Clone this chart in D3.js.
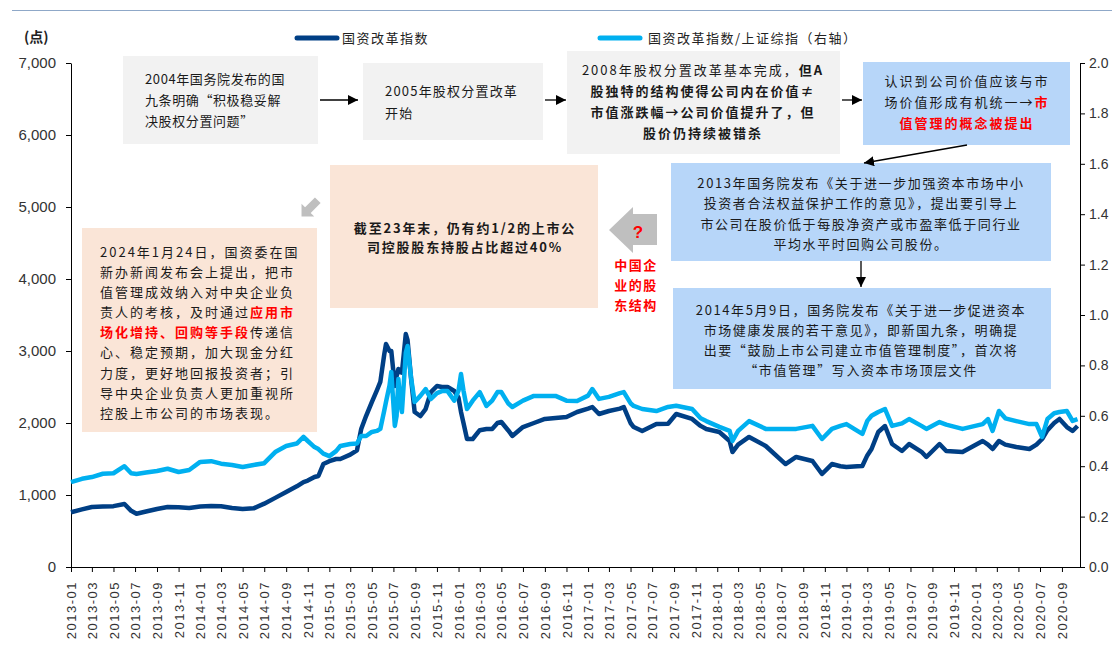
<!DOCTYPE html>
<html>
<head>
<meta charset="utf-8">
<script src="https://cdn.jsdelivr.net/npm/d3@7"></script>
<style>
  body { margin: 0; background: #fff; }
  svg { display: block; }
  .cjk { font-family: "Noto Sans CJK SC", sans-serif; }
</style>
</head>
<body>
<div id="chart"></div>
<script>
// DATA
const dates = ["2013-01-01","2013-02-01","2013-03-01","2013-04-01","2013-05-01","2013-06-01","2013-06-20","2013-07-05","2013-08-01","2013-09-01","2013-10-01","2013-11-01","2013-12-01",
"2014-01-01","2014-02-01","2014-03-01","2014-04-01","2014-05-01","2014-06-01","2014-07-01","2014-08-01","2014-09-01","2014-10-01","2014-10-20","2014-11-01","2014-11-20","2014-12-01","2014-12-15",
"2015-01-01","2015-01-20","2015-02-01","2015-03-01","2015-03-20","2015-04-01","2015-04-15","2015-05-01","2015-05-15","2015-05-25","2015-06-05","2015-06-10","2015-06-20","2015-06-25","2015-07-05","2015-07-10","2015-07-15","2015-07-20","2015-07-25","2015-08-05","2015-08-10","2015-08-20","2015-08-30","2015-09-15","2015-09-30","2015-10-15","2015-11-01","2015-11-15","2015-12-01","2015-12-20",
"2016-01-01","2016-01-08","2016-01-15","2016-01-25","2016-02-10","2016-03-01","2016-03-20","2016-04-05","2016-04-20","2016-05-01","2016-05-20","2016-06-01","2016-07-01","2016-08-01","2016-09-01","2016-10-01","2016-11-01","2016-12-01",
"2017-01-01","2017-01-13","2017-02-01","2017-03-01","2017-04-01","2017-04-12","2017-05-01","2017-05-10","2017-06-03","2017-07-13","2017-08-15","2017-09-07","2017-10-22","2017-11-15","2017-12-01",
"2018-01-07","2018-02-05","2018-02-13","2018-03-01","2018-04-01","2018-05-18","2018-07-13","2018-08-12","2018-09-27","2018-10-24","2018-11-21","2018-12-15",
"2019-01-01","2019-02-01","2019-02-15","2019-03-01","2019-03-13","2019-04-01","2019-04-20","2019-05-10","2019-06-07","2019-06-27","2019-08-01","2019-08-15","2019-09-21","2019-10-10","2019-11-25",
"2020-01-21","2020-02-05","2020-02-18","2020-03-07","2020-03-25","2020-04-25","2020-06-01","2020-06-21","2020-07-07","2020-07-22","2020-08-10","2020-08-25","2020-09-15","2020-10-01","2020-10-15"]

// 国资改革指数 (left axis)
const soeIndex = [760,800,833,840,845,875,780,740,770,806,833,830,820,
840,847,845,820,806,815,880,960,1042,1120,1180,1200,1250,1264,1430,
1470,1500,1500,1560,1620,1917,2100,2290,2450,2570,2950,3097,3000,3000,2514,2650,2750,2708,2700,3236,3150,2611,2153,2097,2194,2430,2514,2500,2500,2444,
2350,2153,2000,1778,1778,1900,1917,1917,2000,2014,1900,1820,1944,2000,2056,2070,2083,2153,
2200,2222,2125,2167,2200,2222,2000,1944,1889,1986,1990,2125,2056,1960,1917,
1875,1750,1597,1700,1806,1681,1430,1528,1472,1292,1430,1400,
1389,1400,1403,1550,1639,1875,1958,1708,1611,1708,1600,1528,1708,1611,1597,
1750,1700,1639,1750,1700,1667,1639,1700,1778,1900,2000,2056,1944,1889,1958]

// 国资改革指数/上证综指 (right axis)
const soeRatio = [0.337,0.350,0.357,0.370,0.372,0.400,0.372,0.369,0.375,0.381,0.390,0.377,0.385,
0.417,0.420,0.410,0.405,0.397,0.405,0.412,0.456,0.480,0.490,0.516,0.500,0.476,0.468,0.450,
0.440,0.460,0.480,0.488,0.490,0.520,0.520,0.536,0.540,0.548,0.620,0.655,0.720,0.774,0.560,0.600,0.746,0.660,0.615,0.850,0.877,0.750,0.655,0.679,0.706,0.667,0.690,0.698,0.698,0.660,
0.700,0.766,0.700,0.627,0.660,0.694,0.639,0.660,0.694,0.694,0.650,0.635,0.660,0.679,0.679,0.679,0.660,0.659,
0.680,0.706,0.667,0.675,0.690,0.694,0.650,0.639,0.627,0.619,0.635,0.640,0.627,0.590,0.579,
0.556,0.540,0.500,0.540,0.579,0.548,0.548,0.548,0.560,0.508,0.548,0.560,
0.567,0.540,0.528,0.580,0.600,0.615,0.627,0.560,0.570,0.587,0.560,0.548,0.575,0.565,0.548,
0.567,0.587,0.540,0.619,0.590,0.579,0.567,0.567,0.516,0.587,0.610,0.615,0.619,0.580,0.587]

const leftTicks = [0,1000,2000,3000,4000,5000,6000,7000]
const rightTicks = [0,0.2,0.4,0.6,0.8,1.0,1.2,1.4,1.6,1.8,2.0]
const seriesNames = ["国资改革指数", "国资改革指数/上证综指（右轴）"]
const seriesColors = ["#003F85", "#00B0F0"]

const parse = d3.timeParse("%Y-%m-%d")
const data = dates.map((d,i) => ({date: parse(d), v: soeIndex[i], r: soeRatio[i]}))

const width = 1112, height = 648

const svg = d3.select("#chart").append("svg")
    .attr("width", width)
    .attr("height", height)

// SCALES
const x = d3.scaleTime()
    .domain([new Date(2013,0,1), new Date(2020,9,22)])
    .range([71,1080])
const yL = d3.scaleLinear().domain([0,7000]).range([567,63])
const yR = d3.scaleLinear().domain([0,2]).range([567,63])

const xTicks = d3.timeMonth.range(new Date(2013,0,1), new Date(2020,9,2), 2)

// top rule
svg.append("line")
    .attr("x1", 12).attr("x2", width).attr("y1", 10.5).attr("y2", 10.5)
    .attr("stroke", "#8FA8C8").attr("stroke-width", 1)

// AXES
const axisFont = "'Liberation Sans', Arial, sans-serif"

const gL = svg.append("g")
    .attr("transform", "translate(71,0)")
    .call(d3.axisLeft(yL).tickValues(leftTicks).tickSize(5).tickSizeOuter(0).tickPadding(10).tickFormat(d3.format(",")))
const gR = svg.append("g")
    .attr("transform", "translate(1080,0)")
    .call(d3.axisRight(yR).tickValues(rightTicks).tickSize(5).tickSizeOuter(0).tickPadding(4).tickFormat(d3.format(".1f")))
const gX = svg.append("g")
    .attr("transform", "translate(0,567)")
    .call(d3.axisBottom(x).tickValues(xTicks).tickSize(5).tickSizeOuter(0).tickFormat(d3.timeFormat("%Y-%m")))

gX.selectAll("text")
    .attr("x", -14).attr("y", 0).attr("dy", "0.35em")
    .attr("transform", "rotate(-90)")
    .style("text-anchor", "end")
    .style("font-size", "13px")
    .style("letter-spacing", "1.5px")

for (const g of [gL, gR, gX]) {
    g.selectAll("path, line").attr("stroke", "#000")
    g.selectAll("text").attr("fill", "#333").style("font-family", axisFont)
}
gL.selectAll("text").style("font-size", "15px")
gR.selectAll("text").style("font-size", "14px")

svg.append("text")
    .attr("class", "cjk")
    .attr("x", 24).attr("y", 42)
    .attr("font-size", 14).attr("font-weight", "bold").attr("fill", "#222")
    .text("(点)")

// LINES
svg.append("path")
    .datum(data)
    .attr("fill", "none")
    .attr("stroke", seriesColors[0])
    .attr("stroke-width", 4.5)
    .attr("stroke-linejoin", "round")
    .attr("d", d3.line().x(d => x(d.date)).y(d => yL(d.v)))

svg.append("path")
    .datum(data)
    .attr("fill", "none")
    .attr("stroke", seriesColors[1])
    .attr("stroke-width", 4.5)
    .attr("stroke-linejoin", "round")
    .attr("d", d3.line().x(d => x(d.date)).y(d => yR(d.r)))

// LEGEND
const legendPos = [[297, 342], [600, 648]]
seriesNames.forEach((name, i) => {
    svg.append("line")
        .attr("x1", legendPos[i][0]).attr("x2", legendPos[i][0] + 40)
        .attr("y1", 38).attr("y2", 38)
        .attr("stroke", seriesColors[i]).attr("stroke-width", 5).attr("stroke-linecap", "round")
    svg.append("text")
        .attr("class", "cjk")
        .attr("x", legendPos[i][1]).attr("y", 43)
        .attr("font-size", 13).attr("fill", "#222")
        .style("letter-spacing", "1.5px")
        .text(name)
})

// ANNOTATION BOXES
const GREY = "#F2F2F2", BLUE = "#B7D6F9", PEACH = "#FAE5D7", RED = "#FF0000"

function box(x0, y0, x1, y1, fill) {
    svg.append("rect")
        .attr("x", x0).attr("y", y0)
        .attr("width", x1 - x0).attr("height", y1 - y0)
        .attr("fill", fill)
}

// lines: array of arrays of [text, red, bold]
function para(lines, xPos, ys, anchor, spacing, size) {
    lines.forEach((segs, i) => {
        const t = svg.append("text")
            .attr("class", "cjk")
            .attr("x", xPos).attr("y", ys[i])
            .attr("dy", "0.35em")
            .attr("text-anchor", anchor)
            .attr("font-size", size || 13)
            .attr("fill", "#1a1a1a")
            .style("letter-spacing", spacing + "px")
        segs.forEach(s => {
            t.append("tspan")
                .attr("fill", s[1] ? RED : "#1a1a1a")
                .attr("font-weight", s[2] ? "bold" : "normal")
                .text(s[0])
        })
    })
}

box(123, 56, 318, 144, GREY)
para([[["2004年国务院发布的国"]], [["九条明确“积极稳妥解"]], [["决股权分置问题”"]]], 145, [79, 100, 121], "start", 0.6)

box(363, 63, 543, 140, GREY)
para([[["2005年股权分置改革"]], [["开始"]]], 385, [91, 113], "start", 1.2)

box(567, 51, 840, 154, GREY)
para([
    [["2008年股权分置改革基本完成，"], ["但A", false, true]],
    [["股独特的结构使得公司内在价值≠", false, true]],
    [["市值涨跌幅→公司价值提升了，但", false, true]],
    [["股价仍持续被错杀", false, true]]
], 703, [70, 91, 112, 133], "middle", 2)

box(863, 62, 1070, 145, BLUE)
para([
    [["认识到公司价值应该与市"]],
    [["场价值形成有机统一→"], ["市", true, true]],
    [["值管理的概念被提出", true, true]]
], 967, [81, 102, 123], "middle", 2)

box(671, 163, 1051, 261, BLUE)
para([
    [["2013年国务院发布《关于进一步加强资本市场中小"]],
    [["投资者合法权益保护工作的意见》，提出要引导上"]],
    [["市公司在股价低于每股净资产或市盈率低于同行业"]],
    [["平均水平时回购公司股份。"]]
], 861, [183, 203, 224, 244], "middle", 1.6)

box(673, 288, 1051, 389, BLUE)
para([
    [["2014年5月9日，国务院发布《关于进一步促进资本"]],
    [["市场健康发展的若干意见》，即新国九条，明确提"]],
    [["出要“鼓励上市公司建立市值管理制度”，首次将"]],
    [["“市值管理”写入资本市场顶层文件"]]
], 861, [310, 330, 350, 370], "middle", 1.6)

box(330, 165, 598, 308, PEACH)
para([
    [["截至23年末，仍有约1/2的上市公", false, true]],
    [["司控股股东持股占比超过40%", false, true]]
], 465, [228, 247], "middle", 1.8)

box(82, 228, 317, 432, PEACH)
para([
    [["2024年1月24日，国资委在国"]],
    [["新办新闻发布会上提出，把市"]],
    [["值管理成效纳入对中央企业负"]],
    [["责人的考核，及时通过"], ["应用市", true, true]],
    [["场化增持、回购等手段", true, true], ["传递信"]],
    [["心、稳定预期，加大现金分红"]],
    [["力度，更好地回报投资者；引"]],
    [["导中央企业负责人更加重视所"]],
    [["控股上市公司的市场表现。"]]
], 100, [252, 272, 292, 312, 332, 352, 373, 393, 413], "start", 2)

// CONNECTOR ARROWS
svg.append("defs").append("marker")
    .attr("id", "head")
    .attr("viewBox", "0 0 10 10")
    .attr("refX", 10).attr("refY", 5)
    .attr("markerWidth", 10).attr("markerHeight", 10)
    .attr("markerUnits", "userSpaceOnUse")
    .attr("orient", "auto")
    .append("path").attr("d", "M0,0L10,5L0,10Z").attr("fill", "#000")

const arrows = [[320,100,358,100],[545,100,566,100],[842,100,862,100],[967,145,864,163],[861,261,861,287]]
arrows.forEach(a => {
    svg.append("line")
        .attr("x1", a[0]).attr("y1", a[1]).attr("x2", a[2]).attr("y2", a[3])
        .attr("stroke", "#000").attr("stroke-width", 1.3)
        .attr("marker-end", "url(#head)")
})

// big grey arrow with question mark
svg.append("path")
    .attr("d", "M609,230L633,207L633,214L657,214L657,245L633,245L633,253Z")
    .attr("fill", "#BFBFBF")
svg.append("text")
    .attr("x", 638).attr("y", 232).attr("dy", "0.35em")
    .attr("text-anchor", "middle")
    .attr("font-family", axisFont).attr("font-weight", "bold")
    .attr("font-size", 17).attr("fill", RED)
    .text("?")
para([
    [["中国企", true, true]],
    [["业的股", true, true]],
    [["东结构", true, true]]
], 636, [265, 285, 305], "middle", 1.5)

// small grey arrow pointing down-left
svg.append("path")
    .attr("transform", "translate(310,208) rotate(-45)")
    .attr("d", "M-12,0L-3,-9L-3,-4L11,-4L11,4L-3,4L-3,9Z")
    .attr("fill", "#BFBFBF")
</script>
</body>
</html>
